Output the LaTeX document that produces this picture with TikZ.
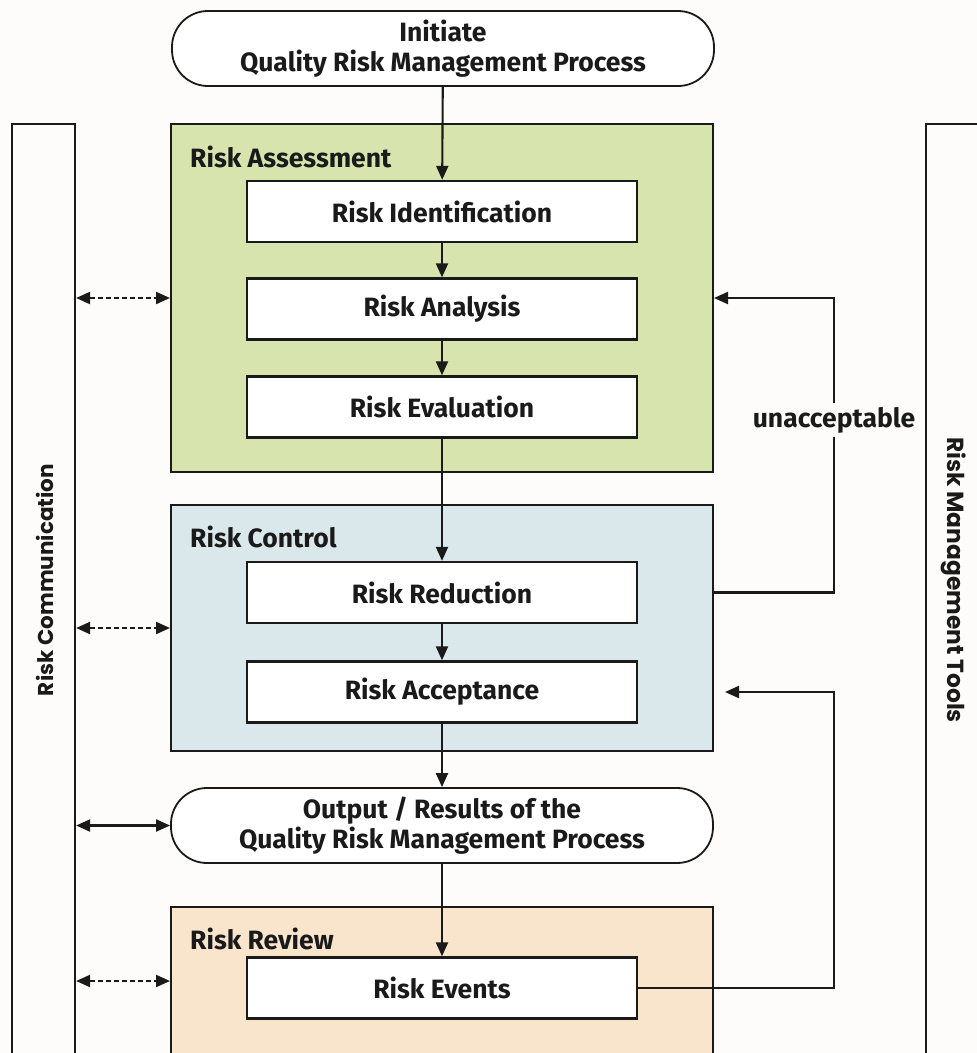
\documentclass[tikz,border=0pt]{standalone}
\usepackage{fontspec}
\setmainfont{Fira Sans}
\newfontfamily\sidefont{Poppins}
\usetikzlibrary{arrows.meta,calc}
\definecolor{pagebg}{HTML}{FDFCFB}
\definecolor{assessfill}{HTML}{D7E4AE}
\definecolor{controlfill}{HTML}{DAE8EC}
\definecolor{reviewfill}{HTML}{F9E4CC}
\definecolor{ink}{HTML}{1A1A1A}
\tikzset{
  labelfont/.style={font=\bfseries\fontsize{26.5}{30}\selectfont},
  base/.style={draw=ink, line width=2.3pt, text=ink, labelfont, align=center, inner sep=0pt},
  pill/.style={base, fill=white, line width=1.8pt, rounded corners=36pt, minimum width=542pt, minimum height=75pt},
  stepbox/.style={base, fill=white, minimum width=390pt, minimum height=61pt},
  panel/.style={draw=ink, line width=2pt, minimum width=542pt, inner sep=0pt},
  panellabel/.style={anchor=west, text=ink, labelfont, inner sep=0pt},
  sidebar/.style={draw=ink, line width=2.2pt, fill=pagebg},
  sidetext/.style={text=ink, inner sep=0pt},
  arr/.style={draw=ink, line width=2.1pt, -{Triangle[length=14pt,width=12pt]}},
  dbl/.style={draw=ink, line width=2.1pt, {Triangle[length=14pt,width=12pt]}-{Triangle[length=14pt,width=12pt]}},
  dashdbl/.style={dbl, dash pattern=on 5pt off 3pt},
}
\begin{document}
\begin{tikzpicture}[x=1pt,y=-1pt]
  \clip (0,0) rectangle (977,1053);
  \fill[pagebg] (0,0) rectangle (977,1053);

  % side bars
  \node[sidebar, minimum width=63pt, minimum height=960pt, inner sep=0pt] (combar) at (43.5,604) {};
  \node[sidebar, minimum width=80pt, minimum height=960pt, inner sep=0pt] (toolbar) at (966,604) {};
  \node[sidetext, rotate=90, font=\sidefont\bfseries\fontsize{21.5}{24}\selectfont] (comtext) at (45,580) {Risk Communication};
  \node[sidetext, rotate=-90, font=\sidefont\bfseries\fontsize{23.3}{26}\selectfont] (tooltext) at (954,580) {Risk Management Tools};

  % stage panels
  \node[panel, fill=assessfill, minimum height=348pt] (assess) at (442,298) {};
  \node[panel, fill=controlfill, minimum height=246pt] (control) at (442,628) {};
  \node[panel, fill=reviewfill, minimum height=200pt] (review) at (442,1007) {};
  \node[panellabel] (assesslabel) at (190,157) {Risk Assessment};
  \node[panellabel] (controllabel) at (190,537) {Risk Control};
  \node[panellabel] (reviewlabel) at (190,939) {Risk Review};

  % process steps
  \node[pill] (init) at (443,48.5) {Initiate\\Quality Risk Management Process};
  \node[stepbox] (ident) at (442,211.5) {Risk Identification};
  \node[stepbox] (analysis) at (442,309) {Risk Analysis};
  \node[stepbox] (eval) at (442,407) {Risk Evaluation};
  \node[stepbox] (reduction) at (442,592.5) {Risk Reduction};
  \node[stepbox] (acceptance) at (442,692) {Risk Acceptance};
  \node[pill] (output) at (442,825.5) {Output / Results of the\\Quality Risk Management Process};
  \node[stepbox] (events) at (442,988) {Risk Events};

  % main flow
  \draw[arr] (init) -- (ident);
  \draw[arr] (ident) -- (analysis);
  \draw[arr] (analysis) -- (eval);
  \draw[arr] (eval) -- (reduction);
  \draw[arr] (reduction) -- (acceptance);
  \draw[arr] (acceptance) -- (output);
  \draw[arr] (output) -- (events);

  % communication links
  \draw[dashdbl] (combar.east |- assess.west) -- (assess.west);
  \draw[dashdbl] (combar.east |- control.west) -- (control.west);
  \draw[dbl] (combar.east |- output.west) -- (output.west);
  \draw[dashdbl] (combar.east |- 0,981) -- (review.west |- 0,981);

  % feedback loops
  \coordinate (loopx) at (834,0);
  \coordinate (accin) at (725,692);
  \draw[arr] (control.east |- reduction.east) -- (loopx |- reduction.east) -- (loopx |- assess.east) -- (assess.east);
  \draw[arr] (events.east) -- (loopx |- events.east) -- (loopx |- accin) -- (accin);
  \node[fill=pagebg, text=ink, labelfont, inner sep=4pt] (unacc) at (834,420) {unacceptable};
\end{tikzpicture}
\end{document}
